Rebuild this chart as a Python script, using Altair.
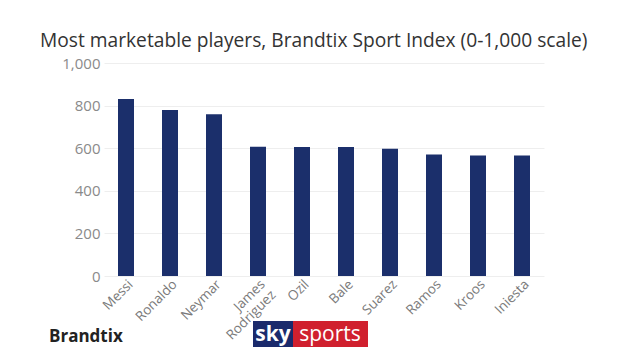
import altair as alt
import pandas as pd

players = ["Messi", "Ronaldo", "Neymar", "James Rodriguez", "Ozil",
           "Bale", "Suarez", "Ramos", "Kroos", "Iniesta"]
scores = [831, 779, 759, 607, 606, 606, 598, 570, 566, 566]
y_ticks = [0, 200, 400, 600, 800, 1000]
title_text = "Most marketable players, Brandtix Sport Index (0-1,000 scale)"

df = pd.DataFrame({"player": players, "score": scores})
one = pd.DataFrame({"k": [0]})

FONT = "Open Sans"

bars = alt.Chart(df).mark_bar(color="#1b2f6b", width=16).encode(
    x=alt.X("player:N", sort=None, title=None,
            scale=alt.Scale(paddingInner=0, paddingOuter=0),
            axis=alt.Axis(labelAngle=-45, labelExpr="split(datum.label, ' ')",
                          labelFontSize=13.5, labelColor="#7a7a7a", labelFont=FONT,
                          ticks=False, domain=False, grid=False, labelPadding=1,
                          labelLineHeight=15)),
    y=alt.Y("score:Q", title=None,
            scale=alt.Scale(domain=[0, 1000]),
            axis=alt.Axis(values=y_ticks, format=",.0f", labelFontSize=15,
                          labelColor="#8a8a8a", labelFont=FONT, ticks=False,
                          domain=False, gridColor="#eeeeee", labelPadding=4)),
)

brand = alt.Chart(one).mark_text(
    text="Brandtix", font=FONT, fontSize=17, fontWeight="bold",
    color="#222222", align="left", baseline="alphabetic"
).encode(x=alt.value(-55), y=alt.value(279))

sky_bg = alt.Chart(one).mark_rect(color="#1a2a6c").encode(
    x=alt.value(149), x2=alt.value(189), y=alt.value(258), y2=alt.value(284))
sports_bg = alt.Chart(one).mark_rect(color="#d0202e").encode(
    x=alt.value(189), x2=alt.value(264), y=alt.value(258), y2=alt.value(284))
sky_t = alt.Chart(one).mark_text(
    text="sky", font=FONT, fontSize=21, fontWeight="bold", color="white",
    align="center", baseline="alphabetic"
).encode(x=alt.value(169), y=alt.value(278))
sports_t = alt.Chart(one).mark_text(
    text="sports", font=FONT, fontSize=21, color="white",
    align="center", baseline="alphabetic"
).encode(x=alt.value(226), y=alt.value(278))

chart = alt.layer(bars, brand, sky_bg, sports_bg, sky_t, sports_t).properties(
    width=440, height=213,
    background="white",
    autosize=alt.AutoSizeParams(type="none"),
    padding={"left": 104, "top": 63, "right": 97, "bottom": 79},
    title=alt.TitleParams(title_text, anchor="start", frame="group", dx=-64,
                          font=FONT, fontSize=19.2, fontWeight="normal",
                          color="#333333", offset=5),
).configure_view(strokeWidth=0, stroke="transparent")

chart.save("out.html", embed_options={"renderer": "svg", "actions": False})
